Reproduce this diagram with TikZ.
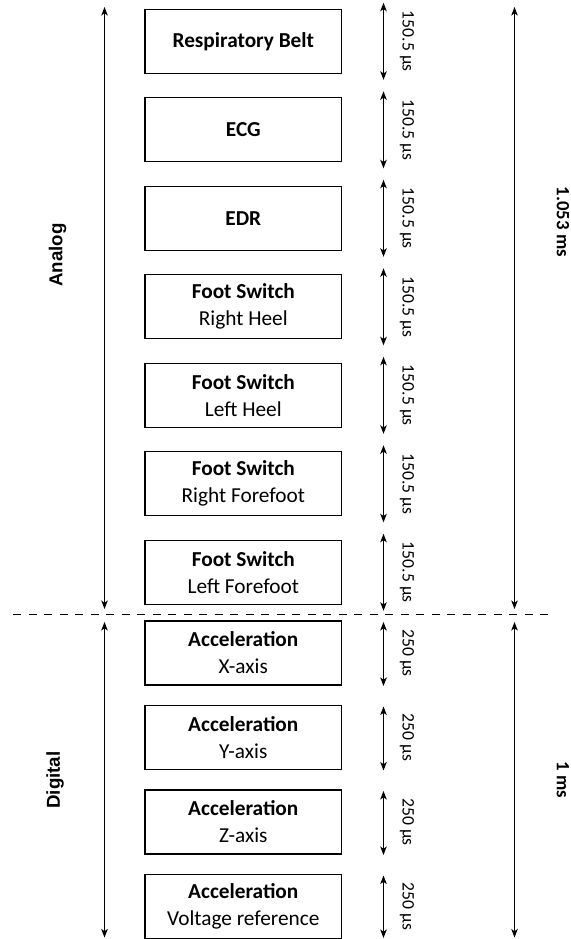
\documentclass[tikz,border=0pt]{standalone}
\usepackage{fontspec}
\setmainfont{Carlito}
\newfontfamily\arialfont{Liberation Sans}
\usetikzlibrary{arrows.meta}
\begin{document}
\begin{tikzpicture}[x=1pt,y=-1pt,
  box/.style={draw, line width=1.3pt, minimum width=196.7pt, minimum height=64pt,
    inner sep=0pt, align=center, font=\fontsize{21.3}{27}\selectfont},
  tip/.tip={Stealth[length=8.5pt,width=6.5pt,inset=2.2pt]},
  dimarrow/.style={line width=1.2pt, tip-tip},
  durlabel/.style={rotate=-90, inner sep=0pt, font=\fontsize{17.6}{20}\selectfont},
  totlabel/.style={rotate=-90, inner sep=0pt, font=\bfseries\fontsize{18.8}{22}\selectfont},
  sidelabel/.style={rotate=90, inner sep=0pt, font=\arialfont\bfseries\fontsize{18.7}{22}\selectfont},
  sepline/.style={line width=1.2pt, dash pattern=on 8pt off 7.5pt}
]
\useasboundingbox (0,0) rectangle (570,939);

% analog boxes
\node[box] (b1) at (243.3,41.3)  {\textbf{Respiratory Belt}};
\node[box] (b2) at (243.3,129.8) {\textbf{ECG}};
\node[box] (b3) at (243.3,218.3) {\textbf{EDR}};
\node[box] (b4) at (243.3,306.8) {\textbf{Foot Switch}\\Right Heel};
\node[box] (b5) at (243.3,395.3) {\textbf{Foot Switch}\\Left Heel};
\node[box] (b6) at (243.3,483.8) {\textbf{Foot Switch}\\Right Forefoot};
\node[box] (b7) at (243.3,572.3) {\textbf{Foot Switch}\\Left Forefoot};
% digital boxes
\node[box] (b8)  at (243.3,653)   {\textbf{Acceleration}\\X-axis};
\node[box] (b9)  at (243.3,737.5) {\textbf{Acceleration}\\Y-axis};
\node[box] (b10) at (243.3,822)   {\textbf{Acceleration}\\Z-axis};
\node[box] (b11) at (243.3,906.5) {\textbf{Acceleration}\\Voltage reference};

% analog duration arrows
\foreach \i/\c in {1/41.3,2/129.8,3/218.3,4/306.8,5/395.3,6/483.8,7/572.3}{
  \coordinate (t\i) at (383.5,\c-38.5);
  \coordinate (u\i) at (383.5,\c+38.5);
  \draw[dimarrow] (t\i) -- (u\i);
  \node[durlabel] (l\i) at (407,\c) {150.5 µs};
}
% digital duration arrows
\foreach \i/\c/\e in {8/653/686,9/737.5/770.5,10/822/855,11/906.5/938}{
  \coordinate (t\i) at (383.5,\c-31);
  \coordinate (u\i) at (383.5,\e);
  \draw[dimarrow] (t\i) -- (u\i);
  \node[durlabel] (l\i) at (407,\c) {250 µs};
}

% totals
\coordinate (aLt) at (104.5,7);
\coordinate (aLb) at (104.5,609);
\coordinate (dLt) at (104.5,622);
\coordinate (dLb) at (104.5,937.5);
\coordinate (aRt) at (514.5,7);
\coordinate (aRb) at (514.5,609);
\coordinate (dRt) at (514.5,622);
\coordinate (dRb) at (514.5,937.5);
\draw[dimarrow] (aLt) -- (aLb);
\draw[dimarrow] (dLt) -- (dLb);
\draw[dimarrow] (aRt) -- (aRb);
\draw[dimarrow] (dRt) -- (dRb);

\node[sidelabel] (analog) at (57.5,255) {Analog};
\node[sidelabel] (digital) at (55,780) {Digital};
\node[totlabel] (tA) at (563,222) {1.053 ms};
\node[totlabel] (tD) at (563,780) {1 ms};

% separator
\coordinate (s1) at (13,614.3);
\coordinate (s2) at (552,614.3);
\draw[sepline] (s1) -- (s2);
\end{tikzpicture}
\end{document}
